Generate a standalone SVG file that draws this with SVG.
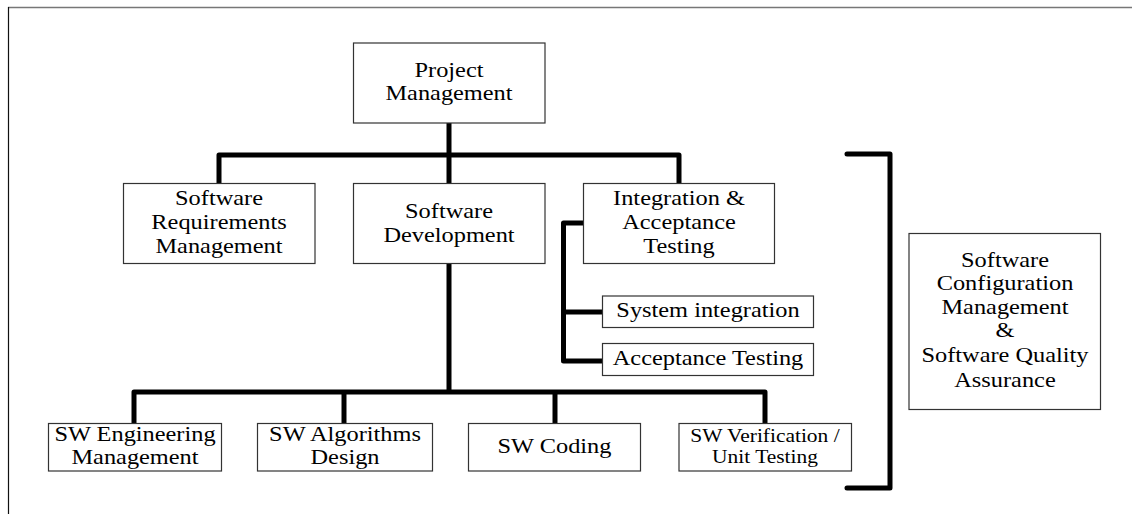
<svg xmlns="http://www.w3.org/2000/svg" width="1132" height="514" viewBox="0 0 1132 514">
<style>
.box{fill:#fff;stroke:#333;stroke-width:1.2}
.t{font-family:"Liberation Serif","Times New Roman",serif;font-size:21px;fill:#000;text-anchor:middle}
.ts{font-size:18.5px}
.conn{fill:none;stroke:#000;stroke-width:5;stroke-linejoin:round;stroke-linecap:butt}
.br{fill:none;stroke:#000;stroke-width:5;stroke-linejoin:round;stroke-linecap:round}
</style>
<rect width="1132" height="514" fill="#fff"/>
<g id="frame">
<line x1="8" y1="7.5" x2="1132" y2="7.5" stroke="#777" stroke-width="1.5"/>
<line x1="8.5" y1="7" x2="8.5" y2="514" stroke="#111" stroke-width="1.2"/>
</g>
<g id="connectors">
<path class="conn" d="M449,123 V183"/>
<path class="conn" d="M219,183 V155 H679 V183"/>
<path class="conn" d="M449,263 V392"/>
<path class="conn" d="M134,423 V392 H765 V423"/>
<path class="conn" d="M344,392 V423"/>
<path class="conn" d="M555,392 V423"/>
<path class="conn" d="M583,223 H563.5 V361 H602"/>
<path class="conn" d="M563.5,312 H602"/>
<path class="br" d="M847,154 H890 V488 H847"/>
</g>
<g id="project-management">
<rect class="box" x="353.5" y="43" width="191.5" height="80"/>
<g class="t" transform="matrix(1.16 0 0 1 449 0)"><text x="0" y="76.7">Project</text><text x="0" y="100">Management</text></g>
</g>
<g id="software-requirements-management">
<rect class="box" x="123.5" y="183.5" width="191.5" height="80"/>
<g class="t" transform="matrix(1.16 0 0 1 219 0)"><text x="0" y="205">Software</text><text x="0" y="229.3">Requirements</text><text x="0" y="253.3">Management</text></g>
</g>
<g id="software-development">
<rect class="box" x="353.5" y="183.5" width="191.5" height="80"/>
<g class="t" transform="matrix(1.16 0 0 1 449 0)"><text x="0" y="218.3">Software</text><text x="0" y="241.7">Development</text></g>
</g>
<g id="integration-acceptance-testing">
<rect class="box" x="583.5" y="183.5" width="191" height="80"/>
<g class="t" transform="matrix(1.16 0 0 1 679 0)"><text x="0" y="205">Integration &amp;</text><text x="0" y="229.3">Acceptance</text><text x="0" y="253.3">Testing</text></g>
</g>
<g id="system-integration">
<rect class="box" x="602.5" y="296" width="211" height="31.5"/>
<g class="t" transform="matrix(1.16 0 0 1 708 0)"><text x="0" y="317.3">System integration</text></g>
</g>
<g id="acceptance-testing">
<rect class="box" x="602.5" y="343.5" width="211" height="32"/>
<g class="t" transform="matrix(1.16 0 0 1 708 0)"><text x="0" y="365">Acceptance Testing</text></g>
</g>
<g id="sw-engineering-management">
<rect class="box" x="48.5" y="423.5" width="173" height="47.5"/>
<g class="t" transform="matrix(1.16 0 0 1 135 0)"><text x="0" y="441">SW Engineering</text><text x="0" y="464">Management</text></g>
</g>
<g id="sw-algorithms-design">
<rect class="box" x="257.5" y="423.5" width="175" height="47.5"/>
<g class="t" transform="matrix(1.16 0 0 1 345 0)"><text x="0" y="441">SW Algorithms</text><text x="0" y="464">Design</text></g>
</g>
<g id="sw-coding">
<rect class="box" x="468.5" y="423.5" width="172" height="47.5"/>
<g class="t" transform="matrix(1.16 0 0 1 554.5 0)"><text x="0" y="453.3">SW Coding</text></g>
</g>
<g id="sw-verification-unit-testing">
<rect class="box" x="679" y="423.5" width="172.5" height="47.5"/>
<g class="t ts" transform="matrix(1.16 0 0 1 765 0)"><text x="0" y="441.7">SW Verification /</text><text x="0" y="463.3">Unit Testing</text></g>
</g>
<g id="software-configuration-management">
<rect class="box" x="909" y="233.5" width="191.5" height="176"/>
<g class="t" transform="matrix(1.16 0 0 1 1005 0)"><text x="0" y="266.7">Software</text><text x="0" y="290">Configuration</text><text x="0" y="314.3">Management</text><text x="0" y="336.7">&amp;</text><text x="0" y="361.7">Software Quality</text><text x="0" y="386.7">Assurance</text></g>
</g>
</svg>
